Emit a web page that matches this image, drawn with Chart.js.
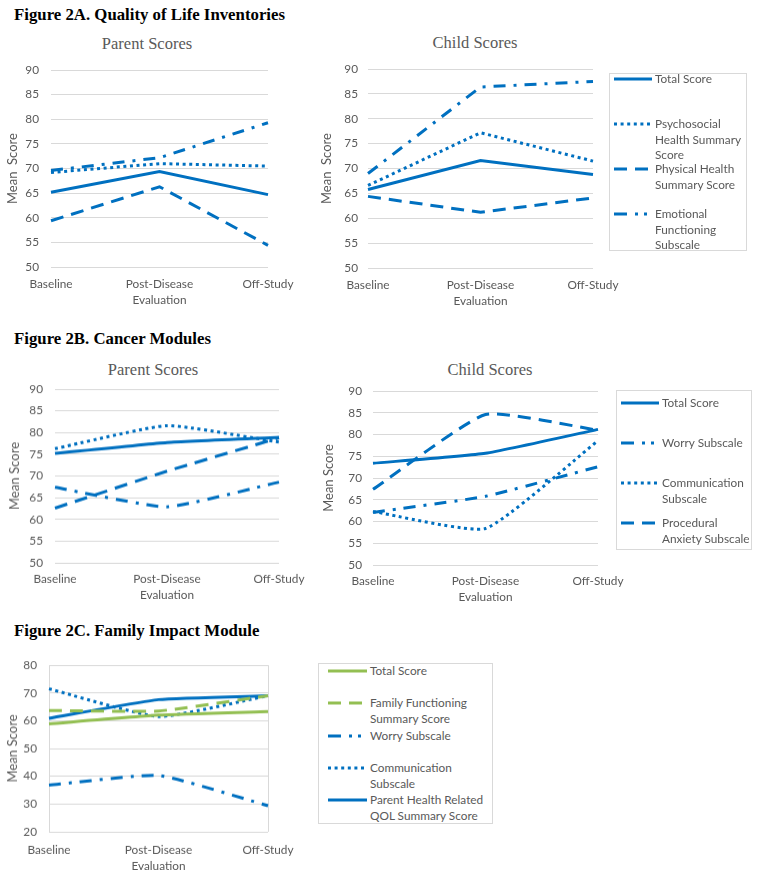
<!DOCTYPE html>
<html>
<head>
<meta charset="utf-8">
<script src="https://cdn.jsdelivr.net/npm/chart.js@4.4.0/dist/chart.umd.min.js"></script>
<style>
  body { margin: 0; background: #fff; width: 761px; height: 876px; position: relative; overflow: hidden; }
  .fig { position: absolute; left: 14px; font: bold 16.8px "Liberation Serif", serif; color: #000; line-height: 20px; white-space: nowrap; }
  .ttl { position: absolute; font: 16.5px "Liberation Serif", serif; color: #595959; line-height: 20px; white-space: nowrap; transform: translateX(-50%); }
  canvas { position: absolute; }
  .legend { position: absolute; border: 1px solid #d9d9d9; box-sizing: border-box; }
  .item { position: absolute; font: 11.8px Lato, sans-serif; color: #595959; line-height: 15.5px; white-space: nowrap; }
  svg.sw { position: absolute; overflow: visible; }
</style>
</head>
<body>

<div class="fig" style="top:5px">Figure 2A. Quality of Life Inventories</div>
<div class="fig" style="top:329px">Figure 2B. Cancer Modules</div>
<div class="fig" style="top:621px">Figure 2C. Family Impact Module</div>

<div class="ttl" style="left:147px;top:34px">Parent Scores</div>
<div class="ttl" style="left:475px;top:33px">Child Scores</div>
<div class="ttl" style="left:153px;top:360px">Parent Scores</div>
<div class="ttl" style="left:490px;top:360px">Child Scores</div>

<canvas id="qolParent"></canvas>
<canvas id="qolChild"></canvas>
<canvas id="canParent"></canvas>
<canvas id="canChild"></canvas>
<canvas id="family"></canvas>

<div class="legend" style="left:609px;top:73px;width:138px;height:178px"></div>
<div class="legend" style="left:616px;top:390px;width:136px;height:160px"></div>
<div class="legend" style="left:318px;top:663px;width:175px;height:161px"></div>
<div id="legends"></div>

<script>
// x categories, shared by every panel
const timepoints = ['Baseline', ['Post-Disease', 'Evaluation'], 'Off-Study'];

// Figure 2A - PedsQL generic inventories
const qolNames = [['Total Score'], ['Psychosocial', 'Health Summary', 'Score'], ['Physical Health', 'Summary Score'], ['Emotional', 'Functioning', 'Subscale']];
const qolParentTotal = [65.2, 69.4, 64.7];
const qolParentPsychosocial = [69.2, 71.0, 70.5];
const qolParentPhysical = [59.4, 66.3, 54.4];
const qolParentEmotional = [69.6, 72.2, 79.3];
const qolChildTotal = [65.8, 71.6, 68.8];
const qolChildPsychosocial = [66.6, 77.2, 71.5];
const qolChildPhysical = [64.4, 61.2, 64.1];
const qolChildEmotional = [69.0, 86.4, 87.5];

// Figure 2B - cancer modules
const canNames = [['Total Score'], ['Worry Subscale'], ['Communication', 'Subscale'], ['Procedural', 'Anxiety Subscale']];
const canParentTotal = [75.2, 77.7, 78.9];
const canParentWorry = [67.4, 62.9, 68.6];
const canParentComm = [76.3, 81.6, 77.8];
const canParentProcedural = [62.6, 71.1, 78.8];
const canChildTotal = [73.4, 75.7, 81.2];
const canChildWorry = [62.1, 65.8, 72.6];
const canChildComm = [62.3, 58.4, 78.6];
const canChildProcedural = [67.4, 84.6, 81.0];

// Figure 2C - family impact module
const famNames = [['Total Score'], ['Family Functioning', 'Summary Score'], ['Worry Subscale'], ['Communication', 'Subscale'], ['Parent Health Related', 'QOL Summary Score']];
const famTotal = [58.9, 62.0, 63.3];
const famFunctioning = [63.7, 63.5, 69.0];
const famWorry = [36.8, 40.3, 29.4];
const famComm = [71.5, 61.5, 69.0];
const famParentHrqol = [60.9, 67.6, 69.0];

// styles
const BLUE = '#0070C0', GREEN = '#93BF52', GRID = '#D9D9D9', TEXT = '#595959';
const SOLID = [], DOT = [3, 3.6], DASH = [13, 8], DASHDOT = [12, 8, 3, 8];

function lineChart(id, g, yMin, yMax, yStep, yTitle, sets, tension, frame) {
  const L = g.left, T = g.y0 - 12;
  const W = g.x1 + 40 - L, H = g.y1 + 45 - T;
  const cv = document.getElementById(id);
  cv.width = W; cv.height = H;
  cv.style.left = L + 'px'; cv.style.top = T + 'px';
  cv.style.width = W + 'px'; cv.style.height = H + 'px';
  const tickFont = { family: 'Lato', size: 11.8, lineHeight: 1.3 };

  return new Chart(cv, {
    type: 'line',
    data: {
      labels: timepoints,
      datasets: sets.map(s => ({
        label: s.name.join(' '),
        data: s.data,
        borderColor: s.color,
        borderDash: s.dash,
        borderWidth: 3,
        borderCapStyle: 'butt',
        pointRadius: 0,
        fill: false,
        tension: tension
      }))
    },
    options: {
      responsive: false,
      animation: false,
      devicePixelRatio: 1,
      layout: { padding: { left: 0, top: 12, right: 40, bottom: 0 } },
      plugins: { legend: { display: false }, tooltip: { enabled: false } },
      scales: {
        x: {
          offset: false,
          grid: { display: frame, drawTicks: false, color: c => c.index === 1 ? 'rgba(0,0,0,0)' : GRID },
          border: { display: false },
          ticks: { padding: g.xPad, color: TEXT, font: tickFont, maxRotation: 0, autoSkip: false },
          afterFit: s => { s.height = 45; }
        },
        y: {
          min: yMin, max: yMax,
          ticks: { stepSize: yStep, padding: g.yPad, color: TEXT, font: { family: 'Lato', size: 11.8 } },
          grid: { color: GRID, drawTicks: false },
          border: { display: false },
          title: {
            display: true, text: yTitle, color: TEXT,
            font: { family: 'Lato', size: 13 },
            padding: { top: g.titleX - L - 7.8, bottom: 0 }
          },
          afterFit: s => { s.width = g.x0 - L; }
        }
      }
    }
  });
}

const qolSets = (t, p, ph, e) => [
  { name: qolNames[0], data: t, color: BLUE, dash: SOLID },
  { name: qolNames[1], data: p, color: BLUE, dash: DOT },
  { name: qolNames[2], data: ph, color: BLUE, dash: DASH },
  { name: qolNames[3], data: e, color: BLUE, dash: DASHDOT }
];
const canSets = (t, w, c, pr) => [
  { name: canNames[0], data: t, color: BLUE, dash: SOLID },
  { name: canNames[1], data: w, color: BLUE, dash: DASHDOT },
  { name: canNames[2], data: c, color: BLUE, dash: DOT },
  { name: canNames[3], data: pr, color: BLUE, dash: DASH }
];
const famSets = [
  { name: famNames[0], data: famTotal, color: GREEN, dash: SOLID },
  { name: famNames[1], data: famFunctioning, color: GREEN, dash: DASH },
  { name: famNames[2], data: famWorry, color: BLUE, dash: DASHDOT },
  { name: famNames[3], data: famComm, color: BLUE, dash: DOT },
  { name: famNames[4], data: famParentHrqol, color: BLUE, dash: SOLID }
];

lineChart('qolParent', { left: 0, x0: 51, x1: 268, y0: 62.7, y1: 267.3, titleX: 13, yPad: 12, xPad: 10 },
  50, 90, 5, 'Mean  Score', qolSets(qolParentTotal, qolParentPsychosocial, qolParentPhysical, qolParentEmotional), 0, false);
lineChart('qolChild', { left: 312, x0: 368, x1: 593, y0: 64, y1: 268, titleX: 327, yPad: 10, xPad: 10 },
  50, 90, 5, 'Mean  Score', qolSets(qolChildTotal, qolChildPsychosocial, qolChildPhysical, qolChildEmotional), 0, false);
lineChart('canParent', { left: 0, x0: 55, x1: 279, y0: 382.3, y1: 563.3, titleX: 15, yPad: 12, xPad: 9 },
  50, 90, 5, 'Mean Score', canSets(canParentTotal, canParentWorry, canParentComm, canParentProcedural), 0.15, false);
lineChart('canChild', { left: 312, x0: 373, x1: 598, y0: 385, y1: 565, titleX: 329, yPad: 11, xPad: 9 },
  50, 90, 5, 'Mean Score', canSets(canChildTotal, canChildWorry, canChildComm, canChildProcedural), 0.15, false);
lineChart('family', { left: 0, x0: 49, x1: 268, y0: 658.3, y1: 831.7, titleX: 13, yPad: 12, xPad: 11 },
  20, 80, 10, 'Mean Score', famSets, 0.15, true);

// HTML legends: swatch + wrapped label, first text line centred on the swatch
function legend(sx0, sx1, textX, rows, sets) {
  let html = '';
  sets.forEach((s, i) => {
    const y = rows[i], w = sx1 - sx0;
    let dash = s.dash.join(' ');
    if (s.dash === DASHDOT) dash = '13 8 3 6 3 30';
    html += '<svg class="sw" style="left:' + sx0 + 'px;top:' + (y - 5) + 'px" width="' + w + '" height="10">' +
      '<line x1="0" y1="5" x2="' + w + '" y2="5" stroke="' + s.color + '" stroke-width="3"' +
      (dash ? ' stroke-dasharray="' + dash + '"' : '') + '/></svg>';
    html += '<div class="item" style="left:' + textX + 'px;top:' + (y - 7.75) + 'px">' + s.name.join('<br>') + '</div>';
  });
  document.getElementById('legends').insertAdjacentHTML('beforeend', html);
}
legend(614, 652, 655, [79, 124, 169, 214], qolSets([], [], [], []));
legend(621, 659, 662, [403, 443, 483, 523], canSets([], [], [], []));
legend(328, 367, 370, [671, 703, 736, 768, 800], famSets);
</script>
</body>
</html>
